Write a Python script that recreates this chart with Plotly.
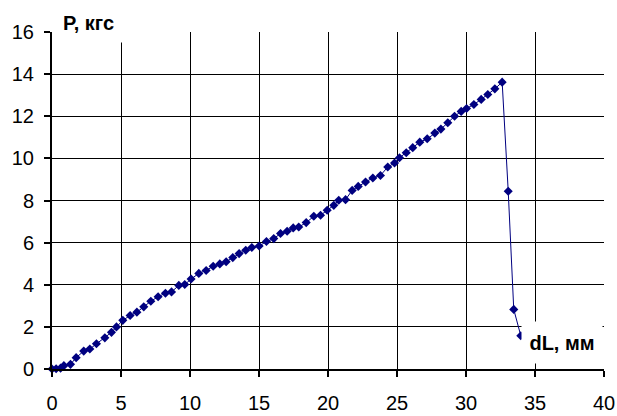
import plotly.graph_objects as go

# Extension dL (mm) and load P (kgf)
dl_mm = [0.0, 0.3, 0.62, 0.86, 1.34, 1.75, 2.30, 2.74, 3.22, 3.83, 4.31, 4.67,
         5.13, 5.66, 6.15, 6.65, 7.16, 7.69, 8.22, 8.66, 9.19, 9.62, 10.08,
         10.64, 11.17, 11.68, 12.16, 12.62, 13.10, 13.56, 14.04, 14.48, 15.01,
         15.54, 16.07, 16.56, 17.04, 17.48, 17.88, 18.42, 18.97, 19.46, 19.94,
         20.42, 20.78, 21.27, 21.75, 22.19, 22.72, 23.25, 23.80, 24.33, 24.82,
         25.18, 25.67, 26.14, 26.65, 27.19, 27.74, 28.18, 28.68, 29.17, 29.65,
         30.04, 30.57, 31.10, 31.58, 32.09, 32.62, 33.06, 33.46, 33.97]
p_kgf = [0.0, 0.01, 0.04, 0.16, 0.22, 0.54, 0.85, 0.95, 1.20, 1.48, 1.74, 2.00,
         2.31, 2.54, 2.70, 2.95, 3.22, 3.43, 3.60, 3.66, 3.97, 4.01, 4.27,
         4.54, 4.68, 4.88, 4.99, 5.09, 5.29, 5.48, 5.64, 5.77, 5.84,
         6.05, 6.19, 6.43, 6.54, 6.70, 6.74, 6.95, 7.25, 7.30, 7.54,
         7.77, 8.01, 8.04, 8.48, 8.67, 8.88, 9.07, 9.19, 9.59, 9.78,
         10.03, 10.27, 10.51, 10.77, 10.93, 11.20, 11.39, 11.69, 12.00, 12.23,
         12.37, 12.56, 12.80, 13.03, 13.30, 13.62, 8.44, 2.83, 1.58]

x_ticks = [0, 5, 10, 15, 20, 25, 30, 35, 40]
y_ticks = [0, 2, 4, 6, 8, 10, 12, 14, 16]

y_label = "P, кгс"
x_label = "dL, мм"

navy = "#000080"
font_family = "Liberation Sans, Arial, sans-serif"
tick_font = dict(family=font_family, size=20, color="black")
label_font = dict(family=font_family, size=20, color="black")

fig = go.Figure()
fig.add_trace(go.Scatter(
    x=dl_mm, y=p_kgf, mode="lines+markers",
    line=dict(color=navy, width=1),
    marker=dict(symbol="diamond", size=7, color=navy),
    cliponaxis=False, showlegend=False,
))

fig.update_layout(
    width=617, height=416,
    margin=dict(l=52, r=13, t=32, b=47),
    paper_bgcolor="white", plot_bgcolor="white",
    font=dict(family=font_family, size=20, color="black"),
    xaxis=dict(
        range=[0, 40], tickvals=x_ticks, ticktext=[str(v) for v in x_ticks],
        showgrid=True, gridcolor="black", gridwidth=1,
        showline=True, linecolor="black", linewidth=2,
        ticks="outside", ticklen=6, tickwidth=2, tickcolor="black",
        ticklabelstandoff=9, zeroline=False, automargin=False,
        tickfont=tick_font,
    ),
    yaxis=dict(
        range=[0, 16], tickvals=y_ticks, ticktext=[str(v) for v in y_ticks],
        showgrid=True, gridcolor="black", gridwidth=1,
        showline=True, linecolor="black", linewidth=2,
        ticks="outside", ticklen=6, tickwidth=2, tickcolor="black",
        ticklabelstandoff=6, zeroline=False, automargin=False,
        tickfont=tick_font,
    ),
    annotations=[
        dict(x=0.067, y=1.027, xref="paper", yref="paper",
             text="<b>" + y_label + "</b>",
             showarrow=False, xanchor="center", yanchor="middle",
             bgcolor="white", borderpad=0, width=71, height=38,
             font=label_font),
        dict(x=0.9248, y=0.0786, xref="paper", yref="paper",
             text="<b>" + x_label + "</b>",
             showarrow=False, xanchor="center", yanchor="middle",
             bgcolor="white", borderpad=0, width=80, height=41,
             font=label_font),
    ],
)

fig.write_html("out.html")
